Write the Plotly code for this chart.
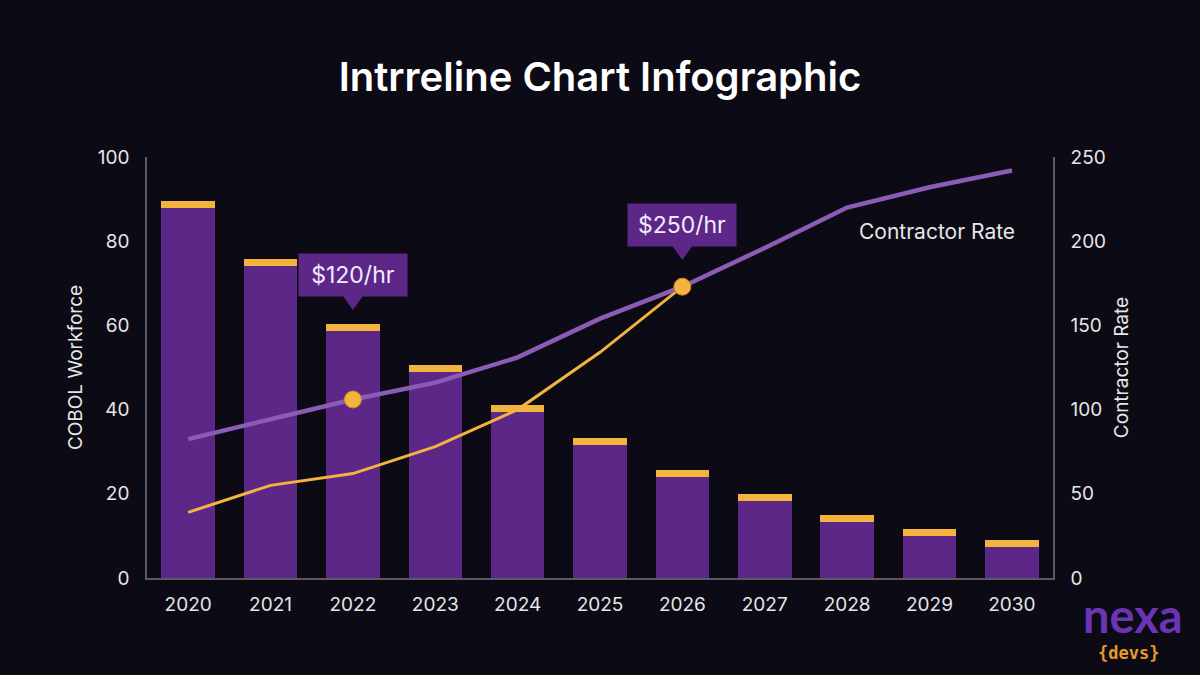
import plotly.graph_objects as go

years = ["2020", "2021", "2022", "2023", "2024", "2025", "2026", "2027", "2028", "2029", "2030"]
workforce = [89.5, 75.8, 60.3, 50.6, 41.1, 33.3, 25.7, 20.0, 15.0, 11.6, 9.0]
contractor_rate = [82.5, 94, 106, 116, 131, 154, 173, 196, 220, 232, 242]
rate_trend = [39, 55, 62, 78, 100, 134, 173, 196, 220, 232, 242]
callout_years = ["2022", "2026"]
callout_labels = ["$120/hr", "$250/hr"]

BG = "#0c0a14"
PURPLE_BAR = "#5c2787"
CAP_COLOR = "#f2b43e"
LINE_PURPLE = "#8a5cb6"
TEXT = "#e6e6e6"
AXIS = "#5a5a62"
CAP = 1.7
FONT = "Inter"

# plot-area pixel geometry (used to place items outside the plot area in paper coords)
L, R, T, B = 147, 147, 157, 97
PW, PH = 1200 - L - R, 675 - T - B


def px(xp):
    return (xp - L) / PW


def py(yp):
    return (675 - B - yp) / PH


# bottom edge of each callout box, in pixels from the top of the picture
CALLOUT_BOTTOM_PX = [297, 247]

fig = go.Figure()

fig.add_trace(go.Bar(x=years, y=[v - CAP for v in workforce], marker=dict(color=PURPLE_BAR, line_width=0),
                     width=0.65, yaxis="y", name="Workforce", showlegend=False))
fig.add_trace(go.Bar(x=years, y=[CAP] * len(years), marker=dict(color=CAP_COLOR, line_width=0),
                     width=0.65, yaxis="y", name="cap", showlegend=False))

fig.add_trace(go.Scatter(x=years, y=rate_trend, mode="lines", line=dict(color=CAP_COLOR, width=3),
                         yaxis="y2", showlegend=False))
fig.add_trace(go.Scatter(x=years, y=contractor_rate, mode="lines", line=dict(color=LINE_PURPLE, width=4.5),
                         yaxis="y2", showlegend=False))

idx = [years.index(y) for y in callout_years]
fig.add_trace(go.Scatter(x=callout_years, y=[contractor_rate[i] for i in idx], mode="markers",
                         marker=dict(color=CAP_COLOR, size=17, line=dict(color="#c98a20", width=1)),
                         yaxis="y2", showlegend=False))

annotations = []
shapes = []
for lab, i, bpx in zip(callout_labels, idx, CALLOUT_BOTTOM_PX):
    box_y = py(bpx)
    annotations.append(dict(x=i, y=box_y, xref="x", yref="paper", text=lab, showarrow=False,
                            font=dict(family=FONT, size=23, color="#f3ecff"),
                            bgcolor=PURPLE_BAR, width=106, height=40, yanchor="bottom", xanchor="center"))
    shapes.append(dict(type="path", xref="x", yref="paper", xsizemode="pixel", ysizemode="pixel",
                       xanchor=i, yanchor=box_y, path="M -10 1 L 10 1 L 0 -13 Z",
                       fillcolor=PURPLE_BAR, line=dict(width=0), layer="above"))

annotations.append(dict(x=px(937), y=py(231), xref="paper", yref="paper", text="Contractor Rate", showarrow=False,
                        font=dict(family=FONT, size=21, color=TEXT), xanchor="center", yanchor="middle"))

# logo
annotations.append(dict(x=px(1133), y=py(615), xref="paper", yref="paper", text="<b>nexa</b>",
                        showarrow=False, font=dict(family="Lato", size=47, color="#6a34b4"),
                        xanchor="center", yanchor="middle"))
annotations.append(dict(x=px(1128), y=py(653), xref="paper", yref="paper", text="<b>{devs}</b>",
                        showarrow=False, font=dict(family="DejaVu Sans Mono", size=17, color="#e6992b"),
                        xanchor="center", yanchor="middle"))

fig.update_layout(
    width=1200, height=675,
    paper_bgcolor=BG, plot_bgcolor=BG,
    barmode="stack", bargap=0.35,
    margin=dict(l=L, r=R, t=T, b=B),
    font=dict(family=FONT, color=TEXT, size=19),
    title=dict(text="Intrreline Chart Infographic", x=0.5, xanchor="center",
               y=1 - 77 / 675, yanchor="middle", yref="container",
               font=dict(family=FONT, size=40, color="#ffffff", weight=600)),
    xaxis=dict(type="category", range=[-0.5, 10.5], showline=True, linecolor=AXIS, linewidth=1.5,
               showgrid=False, zeroline=False, ticks="", tickfont=dict(size=19, color=TEXT),
               ticklabelstandoff=8),
    yaxis=dict(range=[0, 100], tickvals=[0, 20, 40, 60, 80, 100], showline=True, linecolor=AXIS,
               linewidth=1.5, showgrid=False, zeroline=False, ticks="",
               tickfont=dict(size=19, color=TEXT), ticklabelstandoff=12,
               title=dict(text="COBOL Workforce", font=dict(size=19, color=TEXT), standoff=10)),
    yaxis2=dict(range=[0, 250], tickvals=[0, 50, 100, 150, 200, 250], overlaying="y", side="right",
                showline=True, linecolor=AXIS, linewidth=1.5, showgrid=False, zeroline=False, ticks="",
                tickfont=dict(size=19, color=TEXT), ticklabelstandoff=12,
                title=dict(text="Contractor Rate", font=dict(size=19, color=TEXT), standoff=10)),
    annotations=annotations,
    shapes=shapes,
)

fig.write_html("out.html")
